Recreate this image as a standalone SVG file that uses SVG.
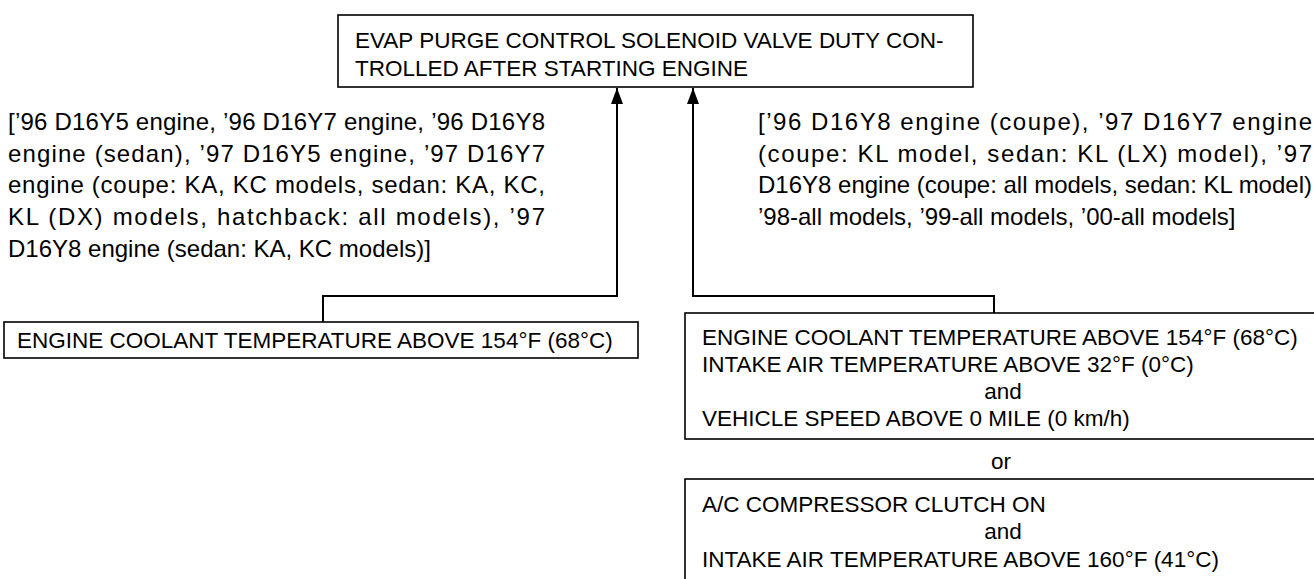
<svg xmlns="http://www.w3.org/2000/svg" width="1314" height="579" viewBox="0 0 1314 579">
<defs>
<marker id="ah" markerWidth="16" markerHeight="12" refX="16" refY="6" orient="auto" markerUnits="userSpaceOnUse">
<path d="M0,0 L16,6 L0,12 Z" fill="#000"/>
</marker>
</defs>
<style>
text{font-family:"Liberation Sans",Arial,sans-serif;fill:#000;font-size:22.5px}
.ann{font-size:24px}
.box{fill:#fff;stroke:#000;stroke-width:1.6}
.wire{fill:none;stroke:#000;stroke-width:2}
.c{text-anchor:middle}
</style>
<rect width="1314" height="579" fill="#fff"/>
<g id="top-node">
<rect class="box" x="338" y="15" width="635" height="72"/>
<text x="355" y="48">EVAP PURGE CONTROL SOLENOID VALVE DUTY CON-</text>
<text x="355" y="76">TROLLED AFTER STARTING ENGINE</text>
</g>
<g id="left-label">
<text class="ann" x="8" y="130" textLength="537" lengthAdjust="spacing">[’96 D16Y5 engine, ’96 D16Y7 engine, ’96 D16Y8</text>
<text class="ann" x="8" y="161.7" textLength="537" lengthAdjust="spacing">engine (sedan), ’97 D16Y5 engine, ’97 D16Y7</text>
<text class="ann" x="8" y="193.4" textLength="537" lengthAdjust="spacing">engine (coupe: KA, KC models, sedan: KA, KC,</text>
<text class="ann" x="8" y="225.1" textLength="537" lengthAdjust="spacing">KL (DX) models, hatchback: all models), ’97</text>
<text class="ann" x="8" y="256.8">D16Y8 engine (sedan: KA, KC models)]</text>
</g>
<g id="right-label">
<text class="ann" x="758" y="130" textLength="554" lengthAdjust="spacing">[’96 D16Y8 engine (coupe), ’97 D16Y7 engine</text>
<text class="ann" x="758" y="161.7" textLength="554" lengthAdjust="spacing">(coupe: KL model, sedan: KL (LX) model), ’97</text>
<text class="ann" x="758" y="193.4" textLength="554" lengthAdjust="spacing">D16Y8 engine (coupe: all models, sedan: KL model)</text>
<text class="ann" x="758" y="225.1">’98-all models, ’99-all models, ’00-all models]</text>
</g>
<g id="connectors">
<path class="wire" d="M323,322 V296 H617 V88" marker-end="url(#ah)"/>
<path class="wire" d="M994,313 V296 H693 V88" marker-end="url(#ah)"/>
</g>
<g id="left-node">
<rect class="box" x="4" y="322" width="634" height="36"/>
<text x="17" y="348">ENGINE COOLANT TEMPERATURE ABOVE 154°F (68°C)</text>
</g>
<g id="right-node-1">
<rect class="box" x="685" y="313" width="640" height="126"/>
<text x="702" y="345">ENGINE COOLANT TEMPERATURE ABOVE 154°F (68°C)</text>
<text x="702" y="372">INTAKE AIR TEMPERATURE ABOVE 32°F (0°C)</text>
<text class="c" x="1003" y="399">and</text>
<text x="702" y="426">VEHICLE SPEED ABOVE 0 MILE (0 km/h)</text>
</g>
<g id="or-label">
<text class="c" x="1001" y="469">or</text>
</g>
<g id="right-node-2">
<rect class="box" x="685" y="479" width="640" height="110"/>
<text x="702" y="512">A/C COMPRESSOR CLUTCH ON</text>
<text class="c" x="1003" y="539">and</text>
<text x="702" y="567">INTAKE AIR TEMPERATURE ABOVE 160°F (41°C)</text>
</g>
</svg>
